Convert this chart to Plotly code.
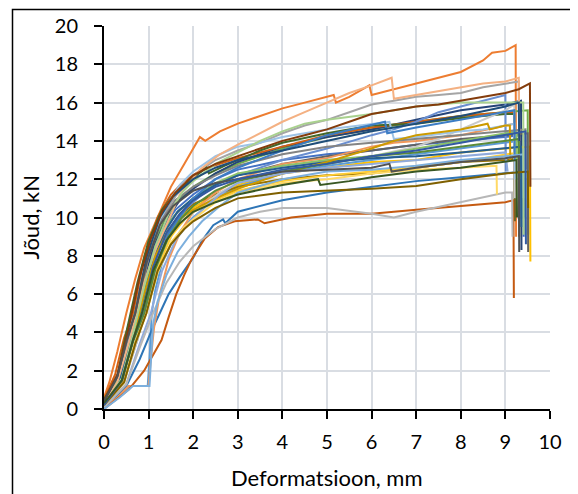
import plotly.graph_objects as go

# ---- data: force (kN) vs deformation (mm), one curve per specimen ----
x_s01 = [0,0.12,0.3,0.5,0.7,0.9,1.05,1.25,1.5,1.8,2.0,2.15,2.27,2.6,3.0,3.5,4.0,4.5,5.0,5.15,5.2,5.5,5.95,6.0,6.5,7.0,7.5,8.0,8.5,8.7,9.0,9.23,9.24]
y_s01 = [0.6,1.4,3.0,5.0,6.8,8.4,9.2,10.3,11.6,12.8,13.6,14.2,14.0,14.5,14.9,15.3,15.7,16.0,16.3,16.4,16.0,16.3,16.9,16.4,16.7,17.0,17.3,17.6,18.2,18.6,18.7,19.0,9.0]
x_s02 = [0,0.3,0.6,0.9,1.15,1.4,1.7,2.15,2.6,3.0,3.5,4.0,4.5,5.0,5.5,6.0,6.45,6.5,7.0,7.5,8.0,8.5,9.0,9.3,9.31]
y_s02 = [0.3,1.4,3.8,6.6,8.3,9.6,11.2,12.5,13.3,13.8,14.4,15.0,15.5,16.0,16.5,16.9,17.3,16.2,16.4,16.6,16.8,17.0,17.1,17.3,14.0]
x_s03 = [0,0.35,0.6,0.85,1.1,1.35,1.6,2.0,2.5,3.0,3.5,4.0,4.5,5.0,5.5,6.0,6.5,7.0,7.5,8.0,8.5,9.0,9.3,9.31]
y_s03 = [0.2,1.8,4.2,6.8,8.9,10.2,11.1,12.2,13.0,13.5,13.9,14.4,14.8,15.1,15.5,15.9,16.1,16.3,16.4,16.5,16.8,17.0,17.1,13.0]
x_s04 = [0,0.3,0.55,0.8,1.05,1.3,1.6,2.0,2.5,3.0,3.5,4.0,4.5,5.0,5.5,6.0,6.5,7.0,7.5,8.0,8.5,9.0,9.3,9.55,9.56]
y_s04 = [0.4,1.8,4.2,6.9,8.9,10.3,11.3,12.2,12.8,13.2,13.6,14.0,14.3,14.6,15.0,15.4,15.6,15.8,15.9,16.1,16.3,16.5,16.7,17.0,11.6]
x_s05 = [0,0.35,0.6,0.85,1.1,1.4,1.7,2.0,2.5,3.0,3.5,4.0,5.0,6.0,6.4,6.5,7.0,8.0,8.5,9.0,9.2,9.21]
y_s05 = [0.1,1.6,4.0,6.6,8.8,10.6,11.7,12.4,13.2,13.7,13.9,14.2,14.6,14.9,15.0,14.1,14.2,14.5,14.6,14.8,14.9,12.0]
x_s06 = [0,0.4,0.65,0.9,1.15,1.45,1.75,2.0,2.5,3.0,3.5,4.0,4.5,5.0,6.0,7.0,8.0,9.0,9.4,9.41]
y_s06 = [0.2,1.6,3.9,6.4,8.5,10.2,11.3,11.9,12.8,13.4,14.0,14.5,14.9,15.1,15.4,15.8,16.0,16.0,16.0,9.1]
x_s07 = [0,0.35,0.6,0.85,1.1,1.4,1.7,2.0,2.5,3.0,3.5,4.0,5.0,6.0,7.0,8.0,9.0,9.35,9.36]
y_s07 = [0.3,1.5,3.8,6.4,8.4,9.9,10.9,11.5,12.3,12.9,13.3,13.7,14.2,14.6,15.1,15.6,15.9,16.1,8.3]
x_s08 = [0,0.45,0.75,1.0,1.25,1.55,1.85,2.2,2.6,3.0,4.0,5.0,6.0,6.5,7.0,7.5,8.0,8.5,9.0,9.01]
y_s08 = [0.1,1.5,3.6,6.0,8.0,9.5,10.5,11.2,11.8,12.2,13.0,13.6,14.3,14.6,15.0,15.5,15.8,16.1,16.4,12.4]
x_s09 = [0,0.35,0.6,0.85,1.1,1.4,1.7,2.0,2.5,3.0,3.5,4.0,5.0,6.0,7.0,8.0,9.0,9.5,9.51]
y_s09 = [0.4,1.6,4.0,6.5,8.5,10.1,11.0,11.6,12.3,12.8,13.2,13.6,14.2,14.6,15.0,15.3,15.5,15.6,9.1]
x_s10 = [0,0.3,0.5,0.75,1.0,1.3,1.6,1.9,2.3,2.35,2.7,3.0,3.5,4.0,5.0,6.0,7.0,8.0,9.0,9.2,9.21]
y_s10 = [0.5,1.7,4.0,6.6,8.8,10.4,11.3,11.9,12.6,12.3,12.7,13.0,13.5,13.9,14.4,14.8,14.9,15.2,15.4,15.4,9.8]
x_s11 = [0,0.3,0.55,1.0,1.05,1.12,1.25,1.45,1.7,2.0,2.5,3.0,3.5,4.0,5.0,6.0,6.5,7.0,8.0,9.0,9.2,9.21]
y_s11 = [0.1,0.6,1.2,1.2,2.6,4.2,6.0,7.8,9.2,10.3,11.3,12.0,12.4,12.8,13.1,13.7,13.9,14.0,14.3,14.8,14.9,12.0]
x_s12 = [0,0.4,0.65,0.9,1.15,1.45,1.75,2.0,2.5,3.0,4.0,5.0,6.0,6.5,7.0,8.0,8.6,8.65,9.0,9.1,9.11]
y_s12 = [0.2,1.4,3.6,6.0,8.0,9.4,10.0,10.4,11.0,11.5,12.3,12.9,13.6,14.0,14.3,14.6,14.9,14.6,14.8,14.8,13.0]
x_s13 = [0,0.4,0.6,0.85,1.1,1.4,1.7,2.0,2.5,3.0,4.0,5.0,6.0,7.0,8.0,9.0,9.5,9.51]
y_s13 = [0.2,1.6,3.5,6.0,8.1,9.6,10.4,10.9,11.7,12.2,12.8,13.2,13.5,13.8,14.1,14.3,14.4,8.2]
x_s14 = [0,0.45,0.75,1.0,1.25,1.55,1.85,2.2,2.6,3.0,4.0,5.0,6.0,7.0,7.5,8.0,8.5,9.0,9.2,9.21]
y_s14 = [0.1,1.4,3.6,6.0,7.8,9.2,10.0,10.6,11.3,11.8,12.5,13.0,13.2,13.7,14.1,14.6,15.1,15.6,15.9,11.0]
x_s15 = [0,0.4,0.65,0.9,1.15,1.45,1.75,2.0,2.5,3.0,4.0,5.0,6.0,7.0,8.0,9.0,9.55,9.56]
y_s15 = [0.3,1.5,3.7,6.0,7.9,9.3,10.1,10.5,11.2,11.7,12.3,12.6,12.9,13.0,13.4,13.6,13.7,7.7]
x_s16 = [0,0.35,0.55,0.75,1.0,1.3,1.6,2.0,2.5,3.0,4.0,5.0,6.0,7.0,8.0,9.0,9.4,9.41]
y_s16 = [0.3,1.7,3.5,5.0,7.5,9.4,10.4,11.2,12.0,12.5,13.0,13.3,13.5,13.8,14.0,14.2,14.3,9.0]
x_s17 = [0,0.3,0.6,0.98,1.03,1.07,1.15,1.3,1.5,1.75,2.0,2.5,3.0,4.0,5.0,6.0,7.0,8.0,9.0,9.3,9.31]
y_s17 = [0.1,0.7,1.2,1.2,3.0,5.0,6.2,7.6,8.6,9.4,10.0,11.0,11.6,12.3,12.7,13.0,13.3,13.6,13.9,14.0,10.0]
x_s18 = [0,0.35,0.6,0.8,1.05,1.35,1.65,2.0,2.5,3.0,4.0,5.0,6.0,7.0,8.0,9.0,9.35,9.36]
y_s18 = [0.2,1.5,3.6,5.0,7.4,9.2,10.3,11.0,11.7,12.2,12.6,12.9,13.1,13.2,13.4,13.6,13.7,9.5]
x_s19 = [0,0.3,0.5,0.7,0.95,1.25,1.55,2.0,2.5,3.0,4.0,5.0,6.0,6.4,6.45,7.0,8.0,9.0,9.3,9.31]
y_s19 = [0.4,1.7,3.5,5.0,7.6,9.6,10.6,11.4,11.8,12.0,12.4,12.5,12.6,12.8,12.4,12.6,12.9,13.1,13.2,8.2]
x_s20 = [0,0.45,0.7,0.95,1.2,1.5,1.8,2.0,2.5,3.0,4.0,5.0,6.0,7.0,8.0,9.0,9.5,9.51]
y_s20 = [0.2,1.4,3.4,5.0,7.2,8.6,9.4,9.8,10.5,11.0,11.3,11.4,11.5,11.65,12.0,12.3,12.4,10.5]
x_s21 = [0,0.4,0.65,0.85,1.1,1.4,1.7,2.0,2.5,3.0,4.0,4.8,4.85,5.5,6.0,7.0,8.0,9.0,9.25,9.26]
y_s21 = [0.3,1.5,3.6,5.0,7.2,8.8,9.7,10.3,10.8,11.2,11.7,12.0,11.7,11.9,12.1,12.4,12.6,12.9,13.0,10.0]
x_s22 = [0,0.5,0.8,1.1,1.4,1.7,2.0,2.5,3.0,3.5,4.0,5.0,6.0,6.5,7.0,8.0,9.0,9.15,9.16]
y_s22 = [0.1,1.3,3.2,5.0,6.6,7.7,8.5,9.4,10.0,10.3,10.5,10.5,10.2,10.0,10.3,10.8,11.3,11.3,9.0]
x_s23 = [0,0.55,0.9,1.15,1.29,1.45,1.62,1.8,1.96,2.26,2.56,2.93,3.45,3.6,4.2,5.0,6.0,7.0,8.0,9.0,9.18,9.19]
y_s23 = [0.0,1.0,2.0,3.0,3.6,4.8,6.0,7.0,7.8,8.9,9.5,9.8,9.9,9.7,10.0,10.2,10.2,10.4,10.6,10.8,10.9,5.8]
x_s24 = [0,0.5,0.8,1.05,1.25,1.45,1.7,2.0,2.2,2.45,2.67,2.72,3.0,3.5,4.0,5.0,6.0,7.0,8.0,9.0,9.4,9.41]
y_s24 = [0.1,1.2,2.6,4.0,5.0,6.0,6.9,7.9,8.8,9.6,9.9,9.7,10.3,10.6,10.9,11.3,11.6,11.9,12.1,12.3,12.4,10.0]
x_s25 = [0,0.45,0.7,0.95,1.2,1.5,1.8,2.0,2.5,3.0,4.0,5.0,6.0,7.0,8.0,8.8,8.81]
y_s25 = [0.2,1.4,3.4,5.0,7.1,8.7,9.5,9.9,10.8,11.3,11.8,12.0,12.3,12.5,12.6,12.7,11.2]
x_s26 = [0,0.5,0.8,1.05,1.3,1.6,1.9,2.2,2.6,3.0,4.0,5.0,6.0,7.0,8.0,9.0,9.05]
y_s26 = [0.1,1.3,3.4,5.0,7.2,8.8,9.7,10.4,11.2,11.8,12.3,12.6,12.8,13.0,13.2,13.4,12.4]
x_s27 = [0,0.35,0.6,0.8,1.05,1.35,1.65,2.0,2.5,3.0,4.0,5.0,6.0,7.0,8.0,9.0,9.3,9.31]
y_s27 = [0.3,1.5,3.6,5.0,7.3,9.0,10.0,10.7,11.2,11.6,12.0,12.2,12.3,12.6,12.9,13.0,13.1,9.0]
x_s28 = [0,0.4,0.65,0.9,1.15,1.45,1.75,2.0,2.5,3.0,4.0,5.0,6.0,7.0,8.0,9.0,9.3,9.31]
y_s28 = [0.2,1.5,3.5,5.0,7.3,9.0,10.0,10.6,11.4,11.9,12.4,12.8,13.2,13.4,13.7,14.0,14.1,12.0]
x_s29 = [0,0.35,0.65,1.02,1.06,1.1,1.2,1.4,1.65,1.9,2.2,2.6,3.0,4.0,5.0,6.0,7.0,8.0,9.0,9.4,9.41]
y_s29 = [0.0,0.6,1.2,1.2,2.8,4.4,5.6,7.0,8.2,9.0,9.8,10.6,11.3,12.0,12.4,12.5,12.7,13.0,13.2,13.3,11.0]
x_s30 = [0,0.3,0.55,0.75,1.0,1.3,1.6,2.0,2.5,3.0,4.0,5.0,6.0,7.0,8.0,9.0,9.45,9.46]
y_s30 = [0.4,1.7,3.8,5.0,8.0,9.9,10.9,11.6,12.2,12.7,13.3,13.7,13.9,14.1,14.3,14.5,14.6,12.5]
x_s31 = [0,0.35,0.6,0.8,1.05,1.35,1.65,2.0,2.5,3.0,4.0,5.0,6.0,7.0,8.0,9.0,9.25,9.26]
y_s31 = [0.3,1.6,3.7,5.0,7.6,9.4,10.3,11.0,11.8,12.3,12.7,13.0,13.2,13.6,14.0,14.4,14.5,13.0]
x_s32 = [0,0.25,0.45,0.65,0.9,1.2,1.5,1.8,2.2,2.6,3.0,4.0,5.0,6.0,7.0,8.0,9.0,9.2,9.21]
y_s32 = [0.5,1.8,3.7,5.0,7.9,10.0,11.2,11.9,12.5,12.8,13.1,13.7,14.3,14.7,15.0,15.3,15.5,15.5,10.0]
x_s33 = [0,0.45,0.7,0.95,1.2,1.5,1.8,2.0,2.5,3.0,4.0,5.0,6.0,7.0,8.0,9.0,9.3,9.31]
y_s33 = [0.2,1.4,3.5,5.0,7.3,9.0,9.9,10.3,10.9,11.4,11.9,12.2,12.4,12.6,12.9,13.3,13.4,12.0]
x_s34 = [0,0.4,0.65,0.85,1.1,1.4,1.7,2.0,2.5,3.0,4.0,5.0,6.0,7.0,8.0,9.0,9.45,9.46]
y_s34 = [0.2,1.5,3.6,5.0,7.4,9.2,10.2,10.9,11.6,12.0,12.5,12.8,13.2,13.5,13.9,14.3,14.5,8.6]
x_s35 = [0,0.3,0.5,0.7,0.95,1.25,1.55,2.0,2.5,3.0,4.0,5.0,6.0,7.0,8.0,9.0,9.3,9.31]
y_s35 = [0.4,1.7,3.6,5.0,7.9,10.0,11.1,12.0,12.6,13.0,13.5,14.0,14.5,14.9,15.3,15.8,16.0,14.0]
x_s36 = [0,0.4,0.65,0.9,1.15,1.45,1.75,2.0,2.5,3.0,4.0,5.0,6.3,6.35,7.0,8.0,9.0,9.2,9.21]
y_s36 = [0.2,1.5,3.6,5.0,7.4,9.2,10.2,11.0,12.0,12.6,13.5,14.3,15.0,14.4,14.7,15.1,15.5,15.6,13.0]

series_x = [x_s16, x_s01, x_s03, x_s15, x_s17, x_s09, x_s07, x_s32, x_s13, x_s27, x_s24, x_s10,
            x_s08, x_s11, x_s14, x_s33, x_s05, x_s31, x_s18, x_s23, x_s30, x_s12, x_s36, x_s28,
            x_s26, x_s02, x_s22, x_s25, x_s29, x_s06, x_s35, x_s04, x_s19, x_s20, x_s34, x_s21]
series_y = [y_s16, y_s01, y_s03, y_s15, y_s17, y_s09, y_s07, y_s32, y_s13, y_s27, y_s24, y_s10,
            y_s08, y_s11, y_s14, y_s33, y_s05, y_s31, y_s18, y_s23, y_s30, y_s12, y_s36, y_s28,
            y_s26, y_s02, y_s22, y_s25, y_s29, y_s06, y_s35, y_s04, y_s19, y_s20, y_s34, y_s21]
colors = ["#4472C4", "#ED7D31", "#A5A5A5", "#FFC000", "#5B9BD5", "#70AD47",
          "#264478", "#D26012", "#636363", "#997300", "#2E75B6", "#43682B",
          "#698ED0", "#F1975A", "#C9C9C9", "#FFCD33", "#9DC3E6", "#8CC168",
          "#255E91", "#C55A11", "#848484", "#CC9A00", "#3C7DC4", "#5A8A39",
          "#8FAADC", "#F4B183", "#B7B7B7", "#FFD966", "#7CAFDD", "#A9D18E",
          "#1F4E79", "#843C0C", "#525252", "#7F6000", "#335AA1", "#385723"]

x_ticks = [0, 1, 2, 3, 4, 5, 6, 7, 8, 9, 10]
y_ticks = [0, 2, 4, 6, 8, 10, 12, 14, 16, 18, 20]
x_title = "Deformatsioon, mm"
y_title = "Jõud, kN"

FONT = "Lato, 'Open Sans', sans-serif"

fig = go.Figure()
for xs, ys, c in zip(series_x, series_y, colors):
    fig.add_trace(go.Scatter(x=xs, y=ys, mode="lines",
                             line=dict(color=c, width=2),
                             showlegend=False, hoverinfo="skip"))

axis_common = dict(showgrid=True, gridcolor="#D9DDE3", gridwidth=1.5,
                   showline=True, linecolor="black", linewidth=2,
                   ticks="outside", ticklen=8, tickwidth=2, tickcolor="black",
                   zeroline=False, automargin=False,
                   tickfont=dict(family=FONT, size=20, color="black"))

fig.update_xaxes(range=[0, 10], tickvals=x_ticks, ticklabelstandoff=6, **axis_common)
fig.update_yaxes(range=[0, 20], tickvals=y_ticks, ticklabelstandoff=12, **axis_common)

# the page body has an 8px margin, so the figure is 8px smaller than the window
OFF = 8
W, H = 578 - OFF, 494 - OFF
L, T = 104 - OFF, 26 - OFF
R = W - (550 - OFF)
B = H - (409.5 - OFF)
pw, ph = W - L - R, H - T - B

def px(xp):   # page x -> paper x
    return (xp - OFF - L) / pw

def py(yp):   # page y -> paper y
    return (T + ph - (yp - OFF)) / ph

fig.update_layout(
    width=W, height=H, autosize=False,
    margin=dict(l=L, r=R, t=T, b=B, autoexpand=False),
    plot_bgcolor="white", paper_bgcolor="white",
    font=dict(family=FONT, color="black"),
    annotations=[
        dict(text=x_title, xref="paper", yref="paper",
             x=0.5, y=py(478), xanchor="center", yanchor="middle",
             showarrow=False, font=dict(family=FONT, size=22, color="black")),
        dict(text=y_title, xref="paper", yref="paper",
             x=px(30), y=0.5, xanchor="center", yanchor="middle", textangle=-90,
             showarrow=False, font=dict(family=FONT, size=22, color="black")),
    ],
    shapes=[dict(type="rect", xref="paper", yref="paper",
                 x0=px(12.5), x1=px(600), y0=py(520), y1=py(9.5),
                 line=dict(color="black", width=1.5), layer="below")],
)

fig.write_html("out.html")
